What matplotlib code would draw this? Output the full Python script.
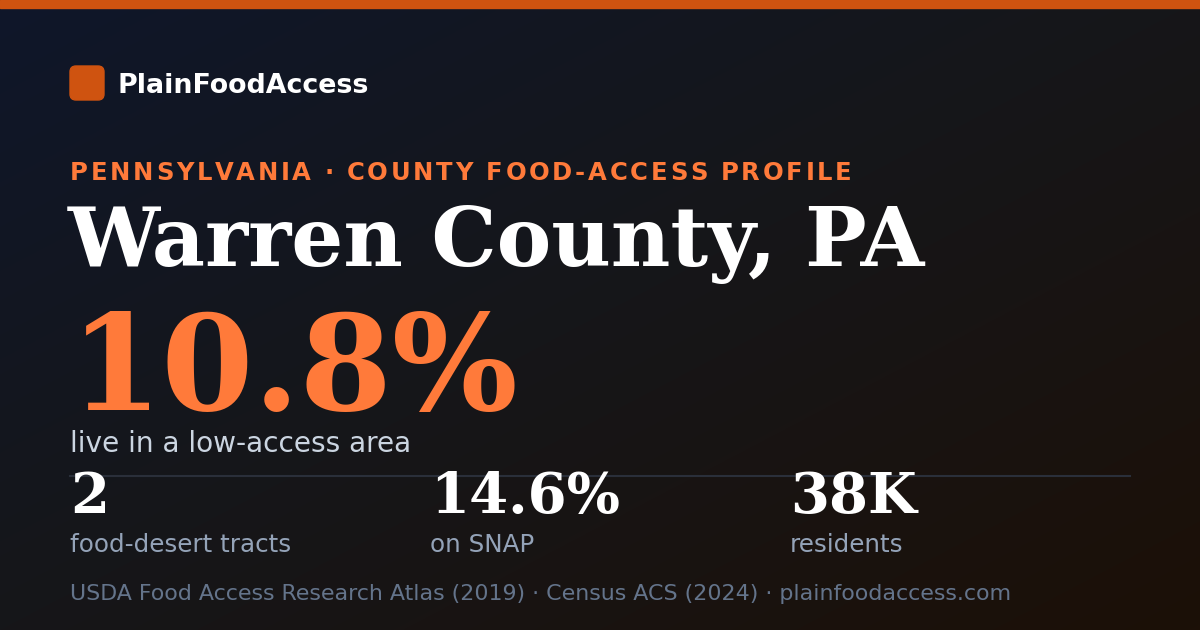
import numpy as np
import matplotlib.pyplot as plt
from matplotlib.patches import FancyBboxPatch, Rectangle
from matplotlib.colors import LinearSegmentedColormap

# card content
brand = "PlainFoodAccess"
kicker = "PENNSYLVANIA · COUNTY FOOD-ACCESS PROFILE"
county = "Warren County, PA"
headline_value = "10.8%"
headline_label = "live in a low-access area"
stat_values = ["2", "14.6%", "38K"]
stat_labels = ["food-desert tracts", "on SNAP", "residents"]
source_note = "USDA Food Access Research Atlas (2019) · Census ACS (2024) · plainfoodaccess.com"

W, H = 1200, 630
ORANGE = '#ff7a3a'
ACCENT = '#cf5310'

fig = plt.figure(figsize=(W / 100, H / 100), dpi=100)
ax = fig.add_axes([0, 0, 1, 1])
ax.set_xlim(0, W)
ax.set_ylim(H, 0)
ax.axis('off')

# diagonal background gradient, navy top-left to brown bottom-right
yy, xx = np.mgrid[0:H, 0:W]
t = (xx / W + yy / H) / 2
bg = LinearSegmentedColormap.from_list('bg', ['#0f172a', '#161619', '#1c1007'])
ax.imshow(t, cmap=bg, extent=[0, W, H, 0], aspect='auto', zorder=0)

# top bar
ax.add_patch(Rectangle((0, 0), W, 8, color=ACCENT, zorder=1))

# logo
ax.add_patch(FancyBboxPatch((70, 66), 34, 34, boxstyle='round,pad=0,rounding_size=6',
                            color=ACCENT, zorder=2))
ax.text(118, 93, brand, fontsize=19.4, fontweight='bold', color='white',
        family='DejaVu Sans', va='baseline')

# letter-spaced kicker, drawn char by char
fig.canvas.draw()
renderer = fig.canvas.get_renderer()
x = 70
spacing = 2.7
for ch in kicker:
    txt = ax.text(x, 180, ch, fontsize=17.5, fontweight='bold', color=ORANGE,
                  family='DejaVu Sans', va='baseline')
    if ch == ' ':
        w = 17.5 * 100 / 72 * 0.318
    else:
        w = txt.get_window_extent(renderer).width
    x += w + spacing

ax.text(68, 266, county, fontsize=59, fontweight='bold', color='white',
        family='DejaVu Serif', va='baseline')

ax.text(70, 410, headline_value, fontsize=95.4, fontweight='bold', color=ORANGE,
        family='DejaVu Serif', va='baseline')
ax.text(70, 452, headline_label, fontsize=20.2, color='#cbd5e1',
        family='DejaVu Sans', va='baseline')

# divider
ax.plot([70, 1130], [476, 476], color='#2a2f3a', lw=1.5, zorder=1)

# stat columns
for i, (v, lab) in enumerate(zip(stat_values, stat_labels)):
    x0 = 70 + i * 360
    ax.text(x0, 513, v, fontsize=40.4, fontweight='bold', color='white',
            family='DejaVu Serif', va='baseline', zorder=3)
    ax.text(x0, 552, lab, fontsize=17.7, color='#94a3b8',
            family='DejaVu Sans', va='baseline')

ax.text(70, 600, source_note, fontsize=15.9, color='#64748b',
        family='DejaVu Sans', va='baseline')

fig.savefig('out.png', dpi=100)
